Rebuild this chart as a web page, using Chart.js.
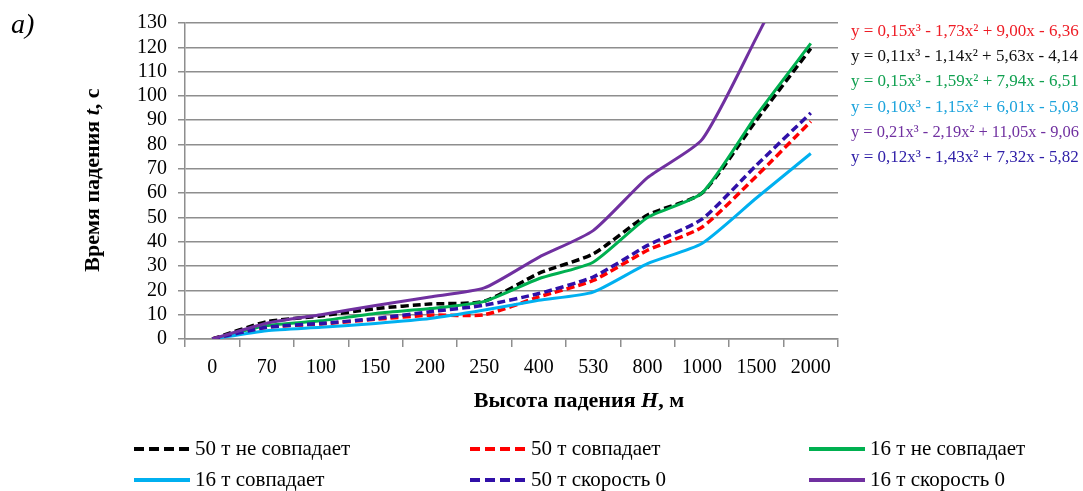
<!DOCTYPE html>
<html>
<head>
<meta charset="utf-8">
<script src="https://cdn.jsdelivr.net/npm/chart.js@4/dist/chart.umd.min.js"></script>
<style>
  html, body { margin: 0; padding: 0; background: #fff; }
  #wrap { position: relative; width: 1083px; height: 491px; }
</style>
</head>
<body>
<div id="wrap"><canvas id="c" width="1083" height="491"></canvas></div>
<script>
// Fall height categories, m
const heights = ['0', '70', '100', '150', '200', '250', '400', '530', '800', '1000', '1500', '2000'];

// Fall time, s
const t50Mismatch = [0, 7.1, 9.5, 12.5, 14.4, 15.5, 27, 35, 51, 60, 90, 119.5];
const t50Match    = [0, 4.8, 6.2, 8.1, 9.8, 10, 17.3, 24.1, 36.5, 46, 67, 89.5];
const t16Mismatch = [0, 5.5, 7.5, 10.5, 12.5, 15.5, 24.8, 31.6, 50, 60, 92, 121.6];
const t16Match    = [0, 3.4, 4.8, 6.4, 8.4, 11.9, 15.9, 19.3, 31, 39.3, 58, 76.3];
const t50Speed0   = [0, 4.8, 6.4, 8.4, 11.2, 13.9, 18.7, 25.5, 38.5, 49.3, 71.5, 93];
const t16Speed0   = [0, 6.5, 10, 13.8, 17.3, 21, 33.6, 44.6, 66.4, 82, 124, 168];

const seriesNames = [
  '50 т не совпадает', '50 т совпадает', '16 т не совпадает',
  '16 т совпадает', '50 т скорость 0', '16 т скорость 0'
];

// Polynomial trend equations (listed top to bottom at the right)
const trendEquations = [
  'y = 0,15x³ - 1,73x² + 9,00x - 6,36',
  'y = 0,11x³ - 1,14x² + 5,63x - 4,14',
  'y = 0,15x³ - 1,59x² + 7,94x - 6,51',
  'y = 0,10x³ - 1,15x² + 6,01x - 5,03',
  'y = 0,21x³ - 2,19x² + 11,05x - 9,06',
  'y = 0,12x³ - 1,43x² + 7,32x - 5,82'
];
const equationColors = ['#ee1c25', '#111111', '#10a050', '#1ca3dc', '#7030a0', '#3020a8'];

const yMin = 0, yMax = 130, yStep = 10;

const SERIF = "'Liberation Serif', 'Times New Roman', serif";
const GRID = '#8e8e8e';

function series(label, data, color, dashed) {
  return {
    label, data,
    borderColor: color,
    backgroundColor: color,
    borderWidth: dashed ? 3.5 : 3,
    borderDash: dashed ? [8, 4] : [],
    pointRadius: 0,
    tension: 0.2,
    fill: false
  };
}

const datasets = [
  series(seriesNames[0], t50Mismatch, '#000000', true),
  series(seriesNames[1], t50Match, '#ff0000', true),
  series(seriesNames[2], t16Mismatch, '#00b050', false),
  series(seriesNames[3], t16Match, '#00b0f0', false),
  series(seriesNames[4], t50Speed0, '#3010a8', true),
  series(seriesNames[5], t16Speed0, '#7030a0', false)
];
// later series are drawn on top
datasets.forEach((d, i) => { d.order = datasets.length - i; });

// Draws a run of text pieces with their own styles, centred on x
function drawRuns(ctx, runs, x, y) {
  let total = 0;
  runs.forEach(r => { ctx.font = r.font; r.w = ctx.measureText(r.text).width; total += r.w; });
  let cx = x - total / 2;
  runs.forEach(r => { ctx.font = r.font; ctx.fillText(r.text, cx, y); cx += r.w; });
}

const decorations = {
  id: 'decorations',
  afterDraw(chart) {
    const ctx = chart.ctx;
    ctx.save();
    ctx.fillStyle = '#000';
    ctx.textBaseline = 'middle';
    ctx.textAlign = 'left';

    // panel letter
    ctx.font = 'italic 28px ' + SERIF;
    ctx.fillText('а)', 11, 26);

    // y axis title
    ctx.save();
    ctx.translate(93, 180);
    ctx.rotate(-Math.PI / 2);
    drawRuns(ctx, [
      { text: 'Время падения ', font: 'bold 22px ' + SERIF },
      { text: 't', font: 'italic bold 22px ' + SERIF },
      { text: ', с', font: 'bold 22px ' + SERIF }
    ], 0, 0);
    ctx.restore();

    // x axis title
    drawRuns(ctx, [
      { text: 'Высота падения ', font: 'bold 22px ' + SERIF },
      { text: 'H', font: 'italic bold 22px ' + SERIF },
      { text: ', м', font: 'bold 22px ' + SERIF }
    ], 579, 401);

    // trend equations, all fitted into the same column width
    ctx.font = '17px ' + SERIF;
    const eqY = [32, 57, 82, 108, 133, 158];
    trendEquations.forEach((eq, i) => {
      ctx.fillStyle = equationColors[i];
      ctx.fillText(eq, 851, eqY[i], 228);
    });

    // legend, three columns by two rows
    const colX = [134, 470, 809];
    const rowY = [449, 480];
    chart.data.datasets.forEach((ds, i) => {
      const x = colX[i % 3];
      const y = rowY[Math.floor(i / 3)];
      ctx.strokeStyle = ds.borderColor;
      ctx.lineWidth = 4;
      ctx.setLineDash(ds.borderDash.length ? [10, 5] : []);
      ctx.beginPath();
      ctx.moveTo(x, y);
      ctx.lineTo(x + 56, y);
      ctx.stroke();
      ctx.setLineDash([]);
      ctx.fillStyle = '#000';
      ctx.font = '21px ' + SERIF;
      ctx.fillText(ds.label, x + 61, y);
    });
    ctx.restore();
  }
};

new Chart(document.getElementById('c'), {
  type: 'line',
  data: { labels: heights, datasets },
  options: {
    responsive: false,
    animation: false,
    layout: { padding: { left: 0, top: 20, right: 245, bottom: 0 } },
    plugins: { legend: { display: false }, tooltip: { enabled: false } },
    scales: {
      x: {
        offset: true,
        grid: { display: true, drawOnChartArea: false, drawTicks: true, tickLength: 8, offset: true, color: GRID, lineWidth: 1.5 },
        border: { display: true, color: GRID, width: 1.5 },
        ticks: { font: { family: SERIF, size: 20 }, color: '#000', padding: 9, maxRotation: 0, autoSkip: false },
        afterFit(scale) { scale.height = 152; }
      },
      y: {
        min: yMin, max: yMax,
        grid: { color: GRID, lineWidth: 1.5, tickLength: 7 },
        border: { display: true, color: GRID, width: 1.5 },
        ticks: { stepSize: yStep, autoSkip: false, font: { family: SERIF, size: 20 }, color: '#000', padding: 11 },
        afterFit(scale) { scale.width = 185; }
      }
    }
  },
  plugins: [decorations]
});
</script>
</body>
</html>
